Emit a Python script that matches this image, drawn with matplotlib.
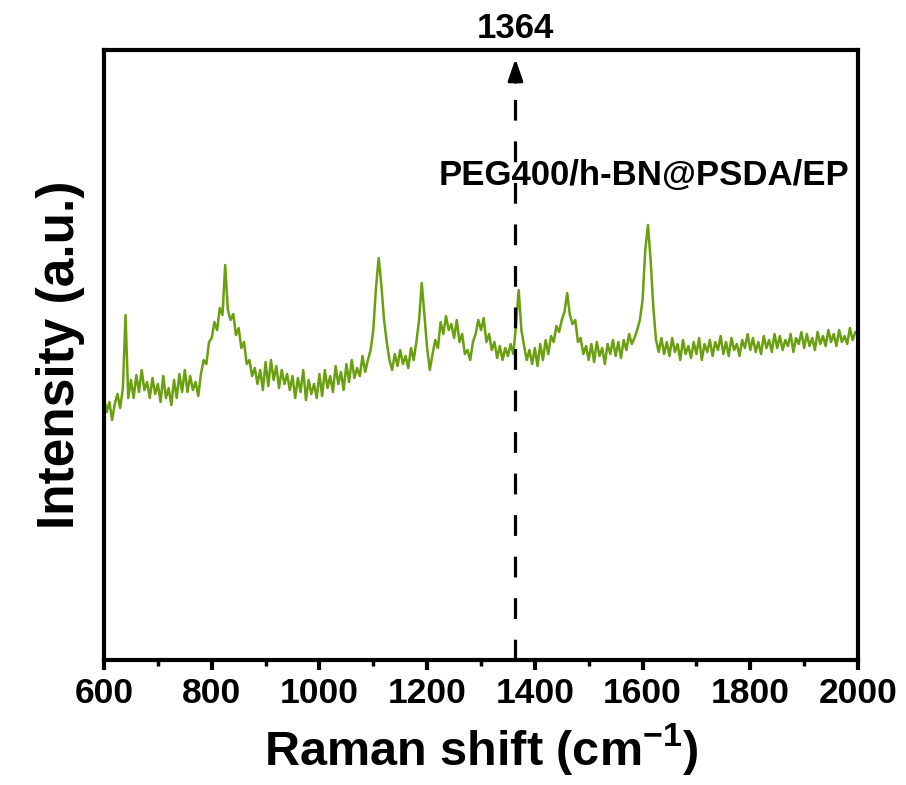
import numpy as np
import matplotlib
matplotlib.use("Agg")
import matplotlib.pyplot as plt
from matplotlib.ticker import MultipleLocator

# Raman spectrum, one value every 5 cm-1 (arbitrary units)
shift = np.arange(600, 2001, 5)
intensity = [
    262, 248, 258, 240, 256, 266, 252, 272, 345, 262,
    280, 262, 285, 268, 290, 270, 278, 262, 282, 266,
    276, 258, 284, 262, 272, 255, 280, 262, 286, 268,
    290, 268, 284, 270, 278, 264, 286, 300, 296, 318,
    322, 338, 330, 352, 345, 395, 350, 340, 346, 325,
    332, 312, 318, 296, 300, 284, 292, 276, 290, 270,
    298, 274, 300, 280, 294, 272, 290, 276, 286, 270,
    284, 262, 282, 268, 290, 260, 280, 266, 276, 262,
    286, 264, 290, 272, 284, 268, 294, 276, 288, 270,
    296, 278, 300, 282, 292, 284, 304, 288, 300, 310,
    330, 372, 402, 375, 340, 318, 300, 290, 306, 294,
    310, 296, 304, 292, 312, 300, 318, 340, 377, 345,
    312, 290, 306, 320, 312, 338, 326, 344, 330, 336,
    322, 340, 318, 326, 306, 310, 300, 318, 326, 340,
    330, 342, 318, 326, 310, 318, 302, 314, 300, 312,
    304, 316, 306, 335, 370, 330, 314, 300, 310, 296,
    312, 294, 316, 300, 320, 306, 324, 318, 334, 328,
    340, 348, 367, 345, 336, 340, 318, 322, 306, 314,
    300, 316, 298, 318, 304, 312, 296, 316, 306, 320,
    304, 318, 302, 320, 310, 326, 316, 322, 330, 340,
    360, 410, 435, 400, 352, 320, 308, 322, 306, 318,
    304, 322, 308, 316, 300, 320, 306, 314, 302, 318,
    306, 322, 300, 316, 308, 320, 304, 318, 310, 324,
    306, 318, 304, 322, 310, 316, 304, 320, 312, 326,
    310, 322, 308, 318, 306, 324, 312, 320, 308, 326,
    312, 324, 310, 320, 314, 326, 308, 322, 316, 328,
    312, 326, 314, 322, 310, 328, 316, 324, 314, 330,
    318, 326, 314, 330, 318, 324, 316, 332, 320, 328,
    325,
]
marker_pos = 1364
sample_name = "PEG400/h-BN@PSDA/EP"

plt.rcParams['font.family'] = ['Liberation Sans', 'DejaVu Sans']
plt.rcParams['font.weight'] = 'bold'
plt.rcParams['mathtext.fontset'] = 'custom'
plt.rcParams['mathtext.rm'] = 'Liberation Sans:bold'
plt.rcParams['mathtext.bf'] = 'Liberation Sans:bold'

fig = plt.figure(figsize=(9.06, 7.85), dpi=100)
ax = fig.add_axes([0.1148, 0.1592, 0.8322, 0.7771])

ax.plot(shift, intensity, color='#6aa010', lw=1.8)

# dashed marker line with arrow head at the top
ax.plot([marker_pos, marker_pos], [0, 582], color='black', lw=2.3,
        dashes=(6.5, 6.5))
ax.annotate('', xy=(marker_pos, 604), xytext=(marker_pos, 575),
            arrowprops=dict(arrowstyle='-|>,head_width=0.45,head_length=1.3',
                            color='black', lw=2.3))
ax.annotate(str(marker_pos), xy=(marker_pos, 1.036),
            xycoords=('data', 'axes fraction'),
            ha='center', va='center', fontsize=25, fontweight='bold')
ax.text(1603, 485, sample_name, ha='center', va='center',
        fontsize=25, fontweight='bold')

ax.set_xlim(600, 2000)
ax.set_ylim(0, 610)
ax.xaxis.set_major_locator(MultipleLocator(200))
ax.xaxis.set_minor_locator(MultipleLocator(100))
ax.tick_params(axis='x', which='major', direction='out', length=7, width=3,
               labelsize=25.5, pad=5)
ax.tick_params(axis='x', which='minor', direction='out', length=4, width=2.5)
ax.set_yticks([])
for lab in ax.get_xticklabels():
    lab.set_fontweight('bold')
for sp in ax.spines.values():
    sp.set_linewidth(3)

ax.set_xlabel('Raman shift (cm$^{\\mathbf{-1}}$)', fontsize=35,
              fontweight='bold', labelpad=8)
ax.set_ylabel('Intensity (a.u.)', fontsize=37, fontweight='bold', labelpad=14)

fig.savefig('out.png', dpi=100)
